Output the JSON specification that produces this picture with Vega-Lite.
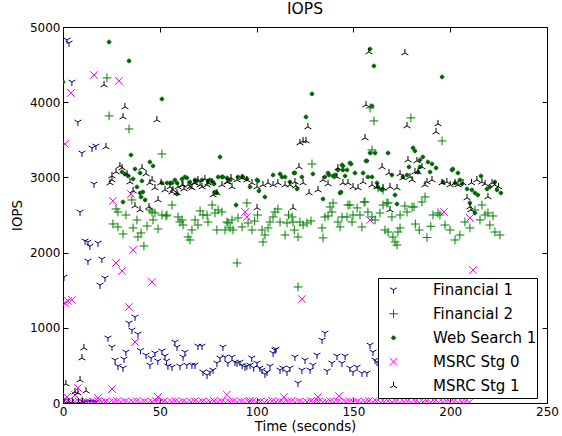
{
"$schema":"https://vega.github.io/schema/vega-lite/v6.json",
"width":484,"height":376,
"autosize":{"type":"none"},
"padding":{"left":63,"top":27,"right":15,"bottom":33},
"title":{"text":"IOPS","fontSize":15.5,"font":"DejaVu Sans","fontWeight":"normal","color":"#000","offset":4},
"config":{"view":{"stroke":"#000","strokeWidth":1},"font":"DejaVu Sans"},
"datasets":{
"f1":[{"t":2.1,"v":4828},{"t":3.1,"v":4788},{"t":4.6,"v":4269},{"t":7.7,"v":3737},{"t":0.5,"v":1676},{"t":9.8,"v":3325},{"t":8.8,"v":2540},{"t":15,"v":3391},{"t":17,"v":3418},{"t":16,"v":2913},{"t":11.4,"v":2155},{"t":12.9,"v":2141},{"t":13.9,"v":2088},{"t":18.1,"v":2128},{"t":12.9,"v":1889},{"t":20.1,"v":1915},{"t":21.7,"v":1663},{"t":19.1,"v":1569},{"t":0.3,"v":30},{"t":11,"v":15},{"t":12.5,"v":15},{"t":14,"v":15},{"t":15.5,"v":15},{"t":17,"v":15},{"t":23.2,"v":865},{"t":25.3,"v":745},{"t":26.9,"v":572},{"t":28.4,"v":492},{"t":31,"v":466},{"t":31.5,"v":585},{"t":32.5,"v":678},{"t":34.1,"v":1064},{"t":37.2,"v":1144},{"t":35.6,"v":971},{"t":38.7,"v":918},{"t":40,"v":700},{"t":42.9,"v":638},{"t":44.9,"v":505},{"t":45.5,"v":600},{"t":47.5,"v":665},{"t":49,"v":560},{"t":51.1,"v":692},{"t":52.7,"v":625},{"t":53.5,"v":560},{"t":54.2,"v":492},{"t":56.3,"v":479},{"t":57.8,"v":811},{"t":58.9,"v":745},{"t":60.4,"v":492},{"t":62,"v":612},{"t":63,"v":678},{"t":64,"v":505},{"t":66.6,"v":505},{"t":68.2,"v":505},{"t":69.7,"v":758},{"t":71.8,"v":758},{"t":72.3,"v":412},{"t":74.4,"v":372},{"t":75.9,"v":412},{"t":77.5,"v":439},{"t":79.5,"v":532},{"t":81.1,"v":598},{"t":82.6,"v":745},{"t":83.7,"v":612},{"t":85.2,"v":532},{"t":87.3,"v":612},{"t":88.8,"v":545},{"t":89.9,"v":532},{"t":91.4,"v":545},{"t":92.5,"v":500},{"t":94,"v":479},{"t":95,"v":492},{"t":96.6,"v":505},{"t":97.5,"v":600},{"t":98.5,"v":470},{"t":100.2,"v":532},{"t":101.7,"v":466},{"t":102.8,"v":439},{"t":104.3,"v":386},{"t":105.4,"v":412},{"t":106.9,"v":492},{"t":108.5,"v":665},{"t":110,"v":718},{"t":109.5,"v":705},{"t":112.1,"v":439},{"t":113.6,"v":466},{"t":115.7,"v":412},{"t":117.2,"v":466},{"t":119.8,"v":612},{"t":121.4,"v":266},{"t":123.4,"v":439},{"t":125,"v":572},{"t":127.6,"v":439},{"t":129.1,"v":505},{"t":131.2,"v":638},{"t":133.8,"v":838},{"t":135.3,"v":931},{"t":136.4,"v":426},{"t":138.9,"v":532},{"t":141.5,"v":625},{"t":144.1,"v":532},{"t":145.7,"v":625},{"t":148.2,"v":466},{"t":149.8,"v":412},{"t":151.9,"v":479},{"t":154.4,"v":399},{"t":157,"v":399},{"t":158.6,"v":771},{"t":160.1,"v":678},{"t":161.2,"v":572},{"t":162.2,"v":545},{"t":165,"v":520},{"t":168,"v":600},{"t":171,"v":480},{"t":175,"v":560},{"t":180,"v":620},{"t":185,"v":500},{"t":190,"v":580},{"t":195,"v":540},{"t":200,"v":520}],
"f2":[{"t":22.7,"v":4323},{"t":23.8,"v":3817},{"t":34.1,"v":3644},{"t":51.1,"v":3312},{"t":27.4,"v":2580},{"t":28.4,"v":2540},{"t":32.5,"v":2500},{"t":35.6,"v":2700},{"t":44.9,"v":2567},{"t":47.5,"v":2527},{"t":53.7,"v":2500},{"t":56.3,"v":2633},{"t":25.8,"v":2381},{"t":28.4,"v":2341},{"t":31,"v":2248},{"t":36.2,"v":2328},{"t":38.2,"v":2434},{"t":38.7,"v":2208},{"t":40.3,"v":2261},{"t":41.8,"v":2088},{"t":43.4,"v":2354},{"t":49.1,"v":2314},{"t":51.1,"v":2500},{"t":53.2,"v":2487},{"t":60.4,"v":2407},{"t":46,"v":2540},{"t":46.5,"v":2434},{"t":59.4,"v":2474},{"t":61.5,"v":2434},{"t":62,"v":2367},{"t":64.6,"v":2208},{"t":65.6,"v":2168},{"t":66.6,"v":2301},{"t":68.2,"v":2434},{"t":69.7,"v":2367},{"t":70.8,"v":2554},{"t":72.3,"v":2500},{"t":74.4,"v":2500},{"t":77,"v":2633},{"t":78.5,"v":2527},{"t":80.1,"v":2567},{"t":82.1,"v":2540},{"t":74.9,"v":2407},{"t":79.5,"v":2301},{"t":83.7,"v":2301},{"t":84.7,"v":2407},{"t":86.3,"v":2328},{"t":87.8,"v":2301},{"t":85.2,"v":2394},{"t":87.3,"v":2434},{"t":90.4,"v":2461},{"t":92.5,"v":2341},{"t":95,"v":2660},{"t":95.6,"v":2394},{"t":97.6,"v":2301},{"t":99,"v":2420},{"t":100.5,"v":2500},{"t":102.8,"v":2301},{"t":103.3,"v":2141},{"t":104.3,"v":2234},{"t":105.9,"v":2328},{"t":106.9,"v":2407},{"t":108.5,"v":2474},{"t":109.5,"v":2540},{"t":111,"v":2580},{"t":112.1,"v":2407},{"t":115.7,"v":2394},{"t":116.5,"v":2500},{"t":118.3,"v":2474},{"t":118.8,"v":2407},{"t":119.5,"v":2300},{"t":114.7,"v":2234},{"t":121.4,"v":2208},{"t":124,"v":2367},{"t":126,"v":2394},{"t":128.1,"v":2421},{"t":122.4,"v":2407},{"t":133.8,"v":2328},{"t":134.3,"v":2195},{"t":135.3,"v":2474},{"t":136.9,"v":2487},{"t":139.5,"v":2660},{"t":138.9,"v":2540},{"t":137.9,"v":2607},{"t":142,"v":2407},{"t":143.1,"v":2341},{"t":144.1,"v":2474},{"t":146.7,"v":2474},{"t":147.2,"v":2633},{"t":148.2,"v":2633},{"t":149.3,"v":2407},{"t":149.8,"v":2500},{"t":151.9,"v":2594},{"t":153.4,"v":2500},{"t":155.5,"v":2673},{"t":156,"v":2673},{"t":157.5,"v":2540},{"t":154.4,"v":2341},{"t":159.6,"v":2474},{"t":161.2,"v":2434},{"t":163.7,"v":2527},{"t":165.3,"v":2633},{"t":167.9,"v":2660},{"t":167.3,"v":2660},{"t":166.3,"v":2301},{"t":167.9,"v":2274},{"t":169.9,"v":2474},{"t":170.4,"v":2208},{"t":173,"v":2274},{"t":174.1,"v":2328},{"t":174.1,"v":2500},{"t":171.5,"v":2141},{"t":172.5,"v":2101},{"t":176.6,"v":2620},{"t":177.7,"v":2540},{"t":181.3,"v":2607},{"t":180.3,"v":2607},{"t":182,"v":2380},{"t":184,"v":2300},{"t":185.4,"v":2673},{"t":187,"v":2740},{"t":188,"v":2200},{"t":190,"v":2350},{"t":191.1,"v":2500},{"t":193.7,"v":2527},{"t":194.7,"v":2500},{"t":197.3,"v":2367},{"t":199.9,"v":2301},{"t":202.5,"v":2168},{"t":205,"v":2234},{"t":207.6,"v":2407},{"t":210.2,"v":2328},{"t":212.8,"v":2567},{"t":215.4,"v":2434},{"t":216.4,"v":2633},{"t":218,"v":2500},{"t":219.5,"v":2527},{"t":220.5,"v":2367},{"t":222.1,"v":2487},{"t":223.1,"v":2274},{"t":225.7,"v":2234},{"t":89.9,"v":1862},{"t":121.4,"v":1543},{"t":158.6,"v":3924},{"t":160.6,"v":3751},{"t":179.7,"v":3791},{"t":128.6,"v":3179},{"t":159.6,"v":3365},{"t":162.7,"v":2860},{"t":165.3,"v":2833},{"t":195.8,"v":3485}],
"ws":[{"t":23.8,"v":4801},{"t":34.1,"v":4549},{"t":51.1,"v":4043},{"t":35.1,"v":3298},{"t":0,"v":4269},{"t":37.2,"v":3112},{"t":44.9,"v":3205},{"t":46.5,"v":3152},{"t":30.5,"v":3072},{"t":32,"v":3046},{"t":33.6,"v":3019},{"t":39.8,"v":3059},{"t":40.8,"v":2953},{"t":36.2,"v":2979},{"t":38.2,"v":2873},{"t":39.8,"v":2793},{"t":41.3,"v":2806},{"t":40.3,"v":2740},{"t":42.4,"v":2700},{"t":31,"v":2673},{"t":51.1,"v":2926},{"t":53.7,"v":2926},{"t":55.3,"v":2926},{"t":56.3,"v":2926},{"t":57.8,"v":2966},{"t":58.9,"v":2926},{"t":58.9,"v":2780},{"t":61.5,"v":2979},{"t":63,"v":3006},{"t":64,"v":2993},{"t":65.6,"v":2939},{"t":68.2,"v":2966},{"t":69.2,"v":2953},{"t":71.8,"v":2966},{"t":74.9,"v":2953},{"t":75.9,"v":2966},{"t":77.5,"v":2939},{"t":78,"v":2913},{"t":78.5,"v":2806},{"t":79.5,"v":2793},{"t":80.1,"v":3006},{"t":81.1,"v":3272},{"t":82.1,"v":3006},{"t":82.6,"v":3006},{"t":84.7,"v":2993},{"t":86.3,"v":2966},{"t":89.4,"v":2633},{"t":90.4,"v":3006},{"t":92.5,"v":3006},{"t":93,"v":3006},{"t":95,"v":2979},{"t":96.6,"v":2873},{"t":100.2,"v":2966},{"t":100.7,"v":2953},{"t":101.2,"v":2820},{"t":104.3,"v":2740},{"t":108.5,"v":3032},{"t":112.1,"v":3046},{"t":113.1,"v":3006},{"t":114.7,"v":3006},{"t":117.2,"v":2939},{"t":119.3,"v":3059},{"t":119.8,"v":3059},{"t":120.9,"v":2846},{"t":123.4,"v":3006},{"t":125.5,"v":3804},{"t":128.6,"v":4110},{"t":129.1,"v":3046},{"t":134.3,"v":2713},{"t":135.3,"v":3006},{"t":136.9,"v":3059},{"t":137.4,"v":3032},{"t":139.5,"v":3019},{"t":140.5,"v":3032},{"t":142,"v":3099},{"t":143.1,"v":2793},{"t":143.6,"v":2806},{"t":144.1,"v":3165},{"t":144.6,"v":3099},{"t":144.6,"v":3152},{"t":145.7,"v":3019},{"t":146.7,"v":3099},{"t":148.2,"v":3192},{"t":148.8,"v":3179},{"t":150.8,"v":3059},{"t":155,"v":3059},{"t":156.5,"v":3219},{"t":157,"v":3219},{"t":157.5,"v":3006},{"t":158.6,"v":4708},{"t":158.6,"v":3325},{"t":159.6,"v":3950},{"t":159.6,"v":3006},{"t":160.6,"v":4482},{"t":161.2,"v":3325},{"t":162.2,"v":2926},{"t":162.7,"v":2873},{"t":164.8,"v":2833},{"t":167.9,"v":3325},{"t":169.9,"v":3032},{"t":171.5,"v":2766},{"t":172.5,"v":2647},{"t":175.6,"v":3006},{"t":177.7,"v":3032},{"t":178.7,"v":3139},{"t":180.8,"v":3392},{"t":181.8,"v":3352},{"t":183.4,"v":3072},{"t":184.4,"v":3232},{"t":184.4,"v":3139},{"t":185.9,"v":3272},{"t":188.5,"v":3205},{"t":189.6,"v":3072},{"t":190.6,"v":3179},{"t":192.7,"v":3126},{"t":195.8,"v":4336},{"t":196.3,"v":2939},{"t":200.9,"v":3099},{"t":201.4,"v":3112},{"t":202.5,"v":2926},{"t":204,"v":3059},{"t":205,"v":2966},{"t":206.1,"v":2913},{"t":208.7,"v":2846},{"t":210.2,"v":2660},{"t":211.2,"v":2833},{"t":212.8,"v":2793},{"t":212.8,"v":2527},{"t":214.3,"v":2766},{"t":215.9,"v":3019},{"t":219,"v":2846},{"t":220.5,"v":2873},{"t":223.1,"v":2939},{"t":224.2,"v":2833},{"t":226.2,"v":2793}],
"m0":[{"t":16,"v":4362},{"t":28.9,"v":4283},{"t":4.1,"v":4123},{"t":1,"v":3445},{"t":35.1,"v":2780},{"t":25.8,"v":2687},{"t":36.2,"v":2035},{"t":27.4,"v":1862},{"t":30.5,"v":1756},{"t":46,"v":1609},{"t":2.6,"v":1357},{"t":4.6,"v":1370},{"t":1,"v":1330},{"t":34.1,"v":1277},{"t":37.2,"v":811},{"t":7.7,"v":200},{"t":6.2,"v":107},{"t":25.3,"v":186},{"t":2.1,"v":80},{"t":18.1,"v":67},{"t":49.1,"v":80},{"t":84.7,"v":110},{"t":96.6,"v":27},{"t":114.1,"v":80},{"t":131.7,"v":80},{"t":142.6,"v":93},{"t":94,"v":2540},{"t":95,"v":2474},{"t":158.6,"v":2434},{"t":123.4,"v":1383},{"t":196.8,"v":2540},{"t":210.2,"v":2460},{"t":211.8,"v":1769},{"t":0,"v":10},{"t":2,"v":20},{"t":4,"v":5},{"t":6,"v":15},{"t":8,"v":25},{"t":10,"v":10},{"t":12,"v":20},{"t":14,"v":5},{"t":16,"v":15},{"t":18,"v":25},{"t":20,"v":10},{"t":22,"v":20},{"t":24,"v":5},{"t":26,"v":15},{"t":28,"v":25},{"t":30,"v":10},{"t":32,"v":20},{"t":34,"v":5},{"t":36,"v":15},{"t":38,"v":25},{"t":40,"v":10},{"t":42,"v":20},{"t":44,"v":5},{"t":46,"v":15},{"t":48,"v":25},{"t":50,"v":10},{"t":52,"v":20},{"t":54,"v":5},{"t":56,"v":15},{"t":58,"v":25},{"t":60,"v":10},{"t":62,"v":20},{"t":64,"v":5},{"t":66,"v":15},{"t":68,"v":25},{"t":70,"v":10},{"t":72,"v":20},{"t":74,"v":5},{"t":76,"v":15},{"t":78,"v":25},{"t":80,"v":10},{"t":82,"v":20},{"t":84,"v":5},{"t":86,"v":15},{"t":88,"v":25},{"t":90,"v":10},{"t":92,"v":20},{"t":94,"v":5},{"t":96,"v":15},{"t":98,"v":25},{"t":100,"v":10},{"t":102,"v":20},{"t":104,"v":5},{"t":106,"v":15},{"t":108,"v":25},{"t":110,"v":10},{"t":112,"v":20},{"t":114,"v":5},{"t":116,"v":15},{"t":118,"v":25},{"t":120,"v":10},{"t":122,"v":20},{"t":124,"v":5},{"t":126,"v":15},{"t":128,"v":25},{"t":130,"v":10},{"t":132,"v":20},{"t":134,"v":5},{"t":136,"v":15},{"t":138,"v":25},{"t":140,"v":10},{"t":142,"v":20},{"t":144,"v":5},{"t":146,"v":15},{"t":148,"v":25},{"t":150,"v":10},{"t":152,"v":20},{"t":154,"v":5},{"t":156,"v":15},{"t":158,"v":25},{"t":160,"v":10},{"t":162,"v":20},{"t":164,"v":5},{"t":166,"v":15},{"t":168,"v":25},{"t":170,"v":10},{"t":172,"v":20},{"t":174,"v":5},{"t":176,"v":15},{"t":178,"v":25},{"t":180,"v":10},{"t":182,"v":20},{"t":184,"v":5},{"t":186,"v":15},{"t":188,"v":25},{"t":190,"v":10},{"t":192,"v":20},{"t":194,"v":5},{"t":196,"v":15},{"t":198,"v":25},{"t":200,"v":10},{"t":202,"v":20},{"t":204,"v":5},{"t":206,"v":15},{"t":208,"v":25},{"t":210,"v":10}],
"k1":[{"t":21.2,"v":4229},{"t":32,"v":3937},{"t":31,"v":3804},{"t":48.5,"v":3764},{"t":22.2,"v":3405},{"t":24.3,"v":2926},{"t":25.3,"v":3019},{"t":29.4,"v":3152},{"t":30.5,"v":3126},{"t":27.4,"v":3072},{"t":25.3,"v":2966},{"t":33.1,"v":3046},{"t":34.6,"v":2939},{"t":36.2,"v":2820},{"t":37.2,"v":2620},{"t":39.8,"v":2567},{"t":40.8,"v":3126},{"t":42.9,"v":3046},{"t":44.4,"v":2607},{"t":44.9,"v":2926},{"t":46,"v":2966},{"t":47.5,"v":2860},{"t":49.1,"v":2700},{"t":50.6,"v":2926},{"t":52.7,"v":2833},{"t":55.3,"v":2873},{"t":56.3,"v":2806},{"t":56.8,"v":2833},{"t":58.9,"v":2793},{"t":59.4,"v":2873},{"t":61.5,"v":2899},{"t":62,"v":2899},{"t":62.5,"v":2846},{"t":64.6,"v":2899},{"t":65.6,"v":2873},{"t":66.6,"v":2860},{"t":67.7,"v":2926},{"t":68.2,"v":2926},{"t":69.7,"v":2966},{"t":70.8,"v":2899},{"t":71.8,"v":2873},{"t":73.3,"v":2979},{"t":74.4,"v":2899},{"t":74.9,"v":2926},{"t":77,"v":2939},{"t":77.5,"v":2766},{"t":79.5,"v":2793},{"t":82.1,"v":2899},{"t":84.7,"v":2939},{"t":85.2,"v":2939},{"t":86.8,"v":2993},{"t":87.3,"v":2873},{"t":89.9,"v":2966},{"t":92.5,"v":2993},{"t":95,"v":2966},{"t":97.6,"v":2926},{"t":100.2,"v":2873},{"t":100.2,"v":2594},{"t":103.3,"v":2899},{"t":105.9,"v":2926},{"t":108.5,"v":2899},{"t":111,"v":2926},{"t":114.7,"v":2899},{"t":117.2,"v":2899},{"t":118.8,"v":2594},{"t":119.8,"v":2939},{"t":120.3,"v":2886},{"t":121.9,"v":3139},{"t":122.4,"v":3458},{"t":124,"v":3485},{"t":124,"v":2926},{"t":125.5,"v":3485},{"t":126.5,"v":3671},{"t":127.1,"v":2793},{"t":131.7,"v":2833},{"t":134.3,"v":2966},{"t":136.9,"v":2913},{"t":141.5,"v":3006},{"t":142,"v":3126},{"t":144.6,"v":2926},{"t":147.2,"v":2926},{"t":149.8,"v":2873},{"t":152.4,"v":2860},{"t":155,"v":2939},{"t":156,"v":3525},{"t":156.5,"v":3963},{"t":158,"v":4668},{"t":159.6,"v":2899},{"t":162.2,"v":2873},{"t":164.8,"v":3139},{"t":165.3,"v":2860},{"t":168.4,"v":3059},{"t":168.9,"v":2873},{"t":168.9,"v":2567},{"t":172.5,"v":2860},{"t":174.1,"v":3046},{"t":175.6,"v":2993},{"t":176.6,"v":4655},{"t":177.7,"v":3684},{"t":178.2,"v":3232},{"t":179.2,"v":3006},{"t":180.3,"v":2966},{"t":181.8,"v":3072},{"t":182.8,"v":3219},{"t":183.4,"v":3072},{"t":185.4,"v":3139},{"t":187,"v":2900},{"t":188,"v":2939},{"t":190.6,"v":2966},{"t":192.7,"v":3604},{"t":193.7,"v":3711},{"t":195.8,"v":2926},{"t":198.3,"v":2939},{"t":200,"v":2900},{"t":202.5,"v":2926},{"t":204,"v":2899},{"t":206.6,"v":2926},{"t":208.7,"v":2727},{"t":210.2,"v":2607},{"t":210.7,"v":2567},{"t":211,"v":2926},{"t":213.8,"v":2966},{"t":216.4,"v":2939},{"t":218,"v":2913},{"t":219.5,"v":2740},{"t":221.6,"v":2926},{"t":223,"v":2899},{"t":225,"v":2873},{"t":10.8,"v":732},{"t":9.8,"v":598},{"t":8.8,"v":306},{"t":11.9,"v":160},{"t":1.5,"v":253},{"t":6.2,"v":146},{"t":7.7,"v":133},{"t":0.5,"v":20},{"t":3,"v":15},{"t":5,"v":10},{"t":8,"v":12},{"t":10,"v":18}]
},
"layer":[
{"layer":[
{"data":{"name":"f1"},"mark":{"type":"point","clip":true,"strokeWidth":1,"opacity":1,"size":64},
 "encoding":{
  "x":{"field":"t","type":"quantitative","scale":{"domain":[0,250],"nice":false},"axis":{"values":[0,50,100,150,200,250],"format":"d","labelFlush":false,"title":"Time (seconds)","grid":false,"domain":false,"tickSize":-5,"tickColor":"#000","labelColor":"#000","labelFontSize":12,"labelPadding":8,"titleFontSize":13.3,"titleFontWeight":"normal","titleColor":"#000","titlePadding":2}},
  "y":{"field":"v","type":"quantitative","scale":{"domain":[0,5000],"nice":false},"axis":{"values":[0,1000,2000,3000,4000,5000],"format":"d","labelFlush":false,"title":"IOPS","grid":false,"domain":false,"tickSize":-5,"tickColor":"#000","labelColor":"#000","labelFontSize":12,"labelPadding":8,"titleFontSize":13.3,"titleFontWeight":"normal","titleColor":"#000","titlePadding":5}},
  "stroke":{"datum":"Financial 1","scale":{"domain":["Financial 1","Financial 2","Web Search 1","MSRC Stg 0","MSRC Stg 1"],"range":["#00008c","#008000","#006400","#ff00ff","#000000"]},"legend":{"title":null,"orient":"none","legendX":315,"legendY":251,"padding":0,"clipHeight":23.6,"rowPadding":0,"symbolOffset":8,"strokeColor":"#000","fillColor":"#fff","labelFontSize":15,"labelColor":"#000","labelOffset":32,"symbolStrokeWidth":1,"symbolSize":64}},
  "fill":{"datum":"Financial 1","scale":{"domain":["Financial 1","Financial 2","Web Search 1","MSRC Stg 0","MSRC Stg 1"],"range":["transparent","transparent","#006400","transparent","transparent"]},"legend":{"title":null,"orient":"none","legendX":315,"legendY":251,"padding":0,"clipHeight":23.6,"rowPadding":0,"symbolOffset":8,"strokeColor":"#000","fillColor":"#fff","labelFontSize":15,"labelColor":"#000","labelOffset":32,"symbolStrokeWidth":1,"symbolSize":64}},
  "shape":{"datum":"Financial 1","scale":{"domain":["Financial 1","Financial 2","Web Search 1","MSRC Stg 0","MSRC Stg 1"],"range":["M0,0L0,1M0,0L-0.866,-0.5M0,0L0.866,-0.5","M-1.1,0L1.1,0M0,-1.1L0,1.1","M-0.45,0A0.45,0.45,0,1,0,0.45,0A0.45,0.45,0,1,0,-0.45,0Z","M-0.95,-0.95L0.95,0.95M-0.95,0.95L0.95,-0.95","M0,0L0,-1M0,0L-0.866,0.5M0,0L0.866,0.5"]},"legend":{"title":null,"orient":"none","legendX":315,"legendY":251,"padding":0,"clipHeight":23.6,"rowPadding":0,"symbolOffset":8,"strokeColor":"#000","fillColor":"#fff","labelFontSize":15,"labelColor":"#000","labelOffset":32,"symbolStrokeWidth":1,"symbolSize":64}}
 }},
{"data":{"name":"f2"},"mark":{"type":"point","clip":true,"strokeWidth":1,"opacity":1,"size":64},
 "encoding":{"x":{"field":"t","type":"quantitative"},"y":{"field":"v","type":"quantitative"},
  "stroke":{"datum":"Financial 2"},"fill":{"datum":"Financial 2"},"shape":{"datum":"Financial 2"}}},
{"data":{"name":"ws"},"mark":{"type":"point","clip":true,"strokeWidth":1,"opacity":1,"size":64},
 "encoding":{"x":{"field":"t","type":"quantitative"},"y":{"field":"v","type":"quantitative"},
  "stroke":{"datum":"Web Search 1"},"fill":{"datum":"Web Search 1"},"shape":{"datum":"Web Search 1"}}},
{"data":{"name":"m0"},"mark":{"type":"point","clip":true,"strokeWidth":1,"opacity":1,"size":64},
 "encoding":{"x":{"field":"t","type":"quantitative"},"y":{"field":"v","type":"quantitative"},
  "stroke":{"datum":"MSRC Stg 0"},"fill":{"datum":"MSRC Stg 0"},"shape":{"datum":"MSRC Stg 0"}}},
{"data":{"name":"k1"},"mark":{"type":"point","clip":true,"strokeWidth":1,"opacity":1,"size":64},
 "encoding":{"x":{"field":"t","type":"quantitative"},"y":{"field":"v","type":"quantitative"},
  "stroke":{"datum":"MSRC Stg 1"},"fill":{"datum":"MSRC Stg 1"},"shape":{"datum":"MSRC Stg 1"}}}
]},
{"data":{"name":"f1"},"mark":{"type":"point","opacity":0},
 "encoding":{
  "x":{"field":"t","type":"quantitative","axis":{"orient":"top","values":[0,50,100,150,200,250],"labels":false,"title":null,"grid":false,"domain":false,"tickSize":-5,"tickColor":"#000"}},
  "y":{"field":"v","type":"quantitative","axis":{"orient":"right","values":[0,1000,2000,3000,4000,5000],"labels":false,"title":null,"grid":false,"domain":false,"tickSize":-5,"tickColor":"#000"}}
 }}
],
"resolve":{"axis":{"x":"independent","y":"independent"}}
}
